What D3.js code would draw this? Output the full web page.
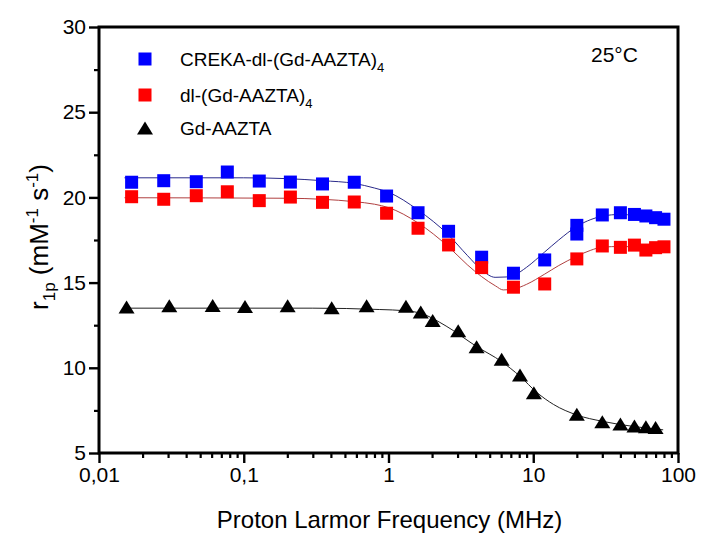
<!DOCTYPE html>
<html>
<head>
<meta charset="utf-8">
<script src="https://cdn.jsdelivr.net/npm/d3@7"></script>
<style>
  html, body { margin: 0; padding: 0; background: #fff; }
  svg { display: block; font-family: "Liberation Sans", Arial, sans-serif; }
</style>
</head>
<body>
<svg id="chart" width="702" height="536"></svg>
<script>
// Longitudinal relaxivity profiles (NMRD), 25 °C
const freqCreka = [0.0168, 0.028, 0.047, 0.077, 0.128, 0.21, 0.35, 0.58, 0.97, 1.6, 2.6, 4.4, 7.3, 12, 20, 20, 30, 40, 50, 60, 70, 80];
const r1Creka   = [20.89, 20.98, 20.92, 21.49, 20.96, 20.90, 20.79, 20.89, 20.08, 19.10, 18.01, 16.49, 15.55, 16.33, 18.36, 17.85, 18.97, 19.10, 19.00, 18.91, 18.81, 18.72];

const freqDl = [0.0168, 0.028, 0.047, 0.077, 0.128, 0.21, 0.35, 0.58, 0.97, 1.6, 2.6, 4.4, 7.3, 12, 20, 30, 40, 50, 60, 70, 80];
const r1Dl   = [20.04, 19.89, 20.10, 20.33, 19.81, 20.02, 19.71, 19.73, 19.07, 18.19, 17.21, 15.88, 14.73, 14.92, 16.39, 17.15, 17.07, 17.20, 16.91, 17.05, 17.10];

const freqGd = [0.0155, 0.0306, 0.061, 0.102, 0.201, 0.405, 0.706, 1.32, 1.67, 2.02, 3.03, 4.06, 6.05, 8.1, 10.1, 20, 30, 40, 50, 60, 70];
const r1Gd   = [13.57, 13.64, 13.66, 13.60, 13.64, 13.53, 13.64, 13.61, 13.27, 12.77, 12.18, 11.24, 10.50, 9.58, 8.54, 7.27, 6.84, 6.70, 6.58, 6.54, 6.49];

// Fitted profiles
const fitFreqCreka = [0.015, 0.1, 0.2, 0.35, 0.58, 0.8, 1.0, 1.6, 2.6, 3.5, 4.4, 5.45, 6.5, 7.3, 9, 12, 15, 20, 25, 30, 40, 50, 60, 70, 80];
const fitCreka     = [21.15, 21.15, 21.10, 20.98, 20.82, 20.55, 20.30, 19.26, 17.79, 16.60, 15.75, 15.31, 15.33, 15.42, 15.90, 16.80, 17.50, 18.30, 18.70, 18.90, 19.00, 18.95, 18.87, 18.80, 18.72];

const fitFreqDl = [0.015, 0.2, 0.35, 0.58, 0.8, 1.0, 1.6, 2.6, 3.5, 4.4, 5.5, 6.2, 7.3, 9, 12, 15, 20, 25, 30, 40, 50, 60, 70, 80];
const fitDl     = [19.98, 19.95, 19.89, 19.75, 19.60, 19.40, 18.50, 17.10, 16.05, 15.35, 14.80, 14.57, 14.62, 14.90, 15.50, 16.00, 16.55, 16.90, 17.08, 17.12, 17.10, 17.07, 17.05, 17.05];

const fitFreqGd = [0.015, 0.3, 0.87, 1.3, 1.67, 2.5, 4.06, 6.05, 8.1, 10.6, 13.8, 20, 30, 49, 79];
const fitGd     = [13.50, 13.50, 13.42, 13.35, 13.20, 12.45, 11.25, 10.36, 9.50, 8.55, 7.85, 7.23, 6.86, 6.56, 6.36];

const xMajorTicks = [0.01, 0.1, 1, 10, 100];
const xTickLabels = ["0,01", "0,1", "1", "10", "100"];
const yMajorTicks = [5, 10, 15, 20, 25, 30];
const yMinorTicks = [7.5, 12.5, 17.5, 22.5, 27.5];

const legendLabels = ["CREKA-dl-(Gd-AAZTA)", "dl-(Gd-AAZTA)", "Gd-AAZTA"];

const svg = d3.select("#chart");
svg.append("rect").attr("width", 702).attr("height", 536).attr("fill", "#fff");

const plotL = 99, plotR = 678, plotT = 27, plotB = 453;
const x = d3.scaleLog().domain([0.01, 100]).range([plotL, plotR]);
const y = d3.scaleLinear().domain([5, 30]).range([plotB, plotT]);

// minor ticks on the log axis: 2..9 in every decade
const xMinorTicks = [];
[0.01, 0.1, 1, 10].forEach(d => { for (let k = 2; k <= 9; k++) xMinorTicks.push(+(d * k).toPrecision(3)); });

const tickFont = 21;

// x axis
const gx = svg.append("g").attr("transform", `translate(0,${plotB})`);
gx.call(d3.axisBottom(x).tickValues(xMinorTicks).tickSize(5).tickFormat(""))
  .call(g => g.select(".domain").remove())
  .call(g => g.selectAll("line").attr("stroke", "#000").attr("stroke-width", 2.2));
const gxMaj = svg.append("g").attr("transform", `translate(0,${plotB})`);
gxMaj.call(d3.axisBottom(x).tickValues(xMajorTicks).tickSize(10).tickPadding(4)
    .tickFormat((d, i) => xTickLabels[i]))
  .call(g => g.select(".domain").remove())
  .call(g => g.selectAll("line").attr("stroke", "#000").attr("stroke-width", 2.4))
  .call(g => g.selectAll("text").attr("fill", "#000").attr("font-size", tickFont)
      .attr("font-family", "Liberation Sans, Arial, sans-serif"));

// y axis
const gy = svg.append("g").attr("transform", `translate(${plotL},0)`);
gy.call(d3.axisLeft(y).tickValues(yMinorTicks).tickSize(5).tickFormat(""))
  .call(g => g.select(".domain").remove())
  .call(g => g.selectAll("line").attr("stroke", "#000").attr("stroke-width", 2.2));
const gyMaj = svg.append("g").attr("transform", `translate(${plotL},0)`);
gyMaj.call(d3.axisLeft(y).tickValues(yMajorTicks).tickSize(10).tickPadding(3).tickFormat(d3.format("d")))
  .call(g => g.select(".domain").remove())
  .call(g => g.selectAll("line").attr("stroke", "#000").attr("stroke-width", 2.4))
  .call(g => g.selectAll("text").attr("fill", "#000").attr("font-size", tickFont)
      .attr("font-family", "Liberation Sans, Arial, sans-serif"));

// frame
svg.append("rect").attr("x", plotL).attr("y", plotT)
  .attr("width", plotR - plotL).attr("height", plotB - plotT)
  .attr("fill", "none").attr("stroke", "#000").attr("stroke-width", 3);

// fit curves
const line = d3.line().x(d => x(d[0])).y(d => y(d[1])).curve(d3.curveMonotoneX);
const zip = (a, b) => a.map((v, i) => [v, b[i]]);
svg.append("path").datum(zip(fitFreqGd, fitGd)).attr("d", line)
  .attr("fill", "none").attr("stroke", "#222").attr("stroke-width", 1);
svg.append("path").datum(zip(fitFreqCreka, fitCreka)).attr("d", line)
  .attr("fill", "none").attr("stroke", "#2a2a8a").attr("stroke-width", 1);
svg.append("path").datum(zip(fitFreqDl, fitDl)).attr("d", line)
  .attr("fill", "none").attr("stroke", "#b04040").attr("stroke-width", 1);

// markers
const sq = 13;
const tri = (cx, cy, w, h) => `M${cx},${cy - h / 2}L${cx + w / 2},${cy + h / 2}L${cx - w / 2},${cy + h / 2}Z`;

svg.append("g").selectAll("rect").data(zip(freqCreka, r1Creka)).join("rect")
  .attr("x", d => x(d[0]) - sq / 2).attr("y", d => y(d[1]) - sq / 2)
  .attr("width", sq).attr("height", sq).attr("fill", "#0000ff");
svg.append("g").selectAll("rect").data(zip(freqDl, r1Dl)).join("rect")
  .attr("x", d => x(d[0]) - sq / 2).attr("y", d => y(d[1]) - sq / 2)
  .attr("width", sq).attr("height", sq).attr("fill", "#ff0000");
svg.append("g").selectAll("path").data(zip(freqGd, r1Gd)).join("path")
  .attr("d", d => tri(x(d[0]), y(d[1]), 16, 13)).attr("fill", "#000");

// legend
const lg = svg.append("g").attr("font-size", 19).attr("fill", "#000");
const legY = [59, 95, 128];
lg.append("rect").attr("x", 145 - sq / 2).attr("y", legY[0] - sq / 2).attr("width", sq).attr("height", sq).attr("fill", "#0000ff");
lg.append("rect").attr("x", 145 - sq / 2).attr("y", legY[1] - sq / 2).attr("width", sq).attr("height", sq).attr("fill", "#ff0000");
lg.append("path").attr("d", tri(145, legY[2], 16, 13)).attr("fill", "#000");
legendLabels.forEach((t, i) => {
  const tx = lg.append("text").attr("x", 180).attr("y", legY[i] + 7);
  tx.append("tspan").text(t);
  if (i < 2) tx.append("tspan").attr("font-size", 13).attr("dy", 6).text("4");
});

// temperature note
svg.append("text").attr("x", 591).attr("y", 62).attr("font-size", 21).attr("fill", "#000").text("25°C");

// axis titles
svg.append("text").attr("x", (plotL + plotR) / 2 + 1).attr("y", 528)
  .attr("text-anchor", "middle").attr("font-size", 24).attr("fill", "#000")
  .text("Proton Larmor Frequency (MHz)");

const yt = svg.append("text").attr("transform", "translate(48,237) rotate(-90)")
  .attr("text-anchor", "middle").attr("font-size", 26).attr("fill", "#000");
yt.append("tspan").text("r");
yt.append("tspan").attr("font-size", 17).attr("dy", 7).text("1p");
yt.append("tspan").attr("dy", -7).text(" (mM");
yt.append("tspan").attr("font-size", 17).attr("dy", -10).text("-1");
yt.append("tspan").attr("dy", 10).text(" s");
yt.append("tspan").attr("font-size", 17).attr("dy", -10).text("-1");
yt.append("tspan").attr("dy", 10).text(")");
</script>
</body>
</html>
